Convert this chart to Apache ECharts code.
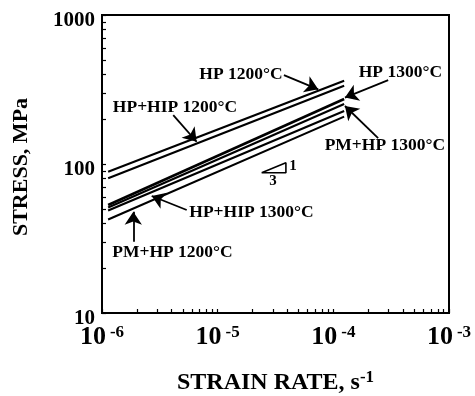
<!DOCTYPE html>
<html>
<head>
<meta charset="utf-8">
<script src="https://cdn.jsdelivr.net/npm/echarts@6/dist/echarts.min.js"></script>
<style>
  html, body { margin: 0; padding: 0; background: #fff; }
  #chart { width: 475px; height: 396px; }
</style>
</head>
<body>
<div id="chart"></div>
<script>
// Strain rates (s^-1) at the two ends of every fitted creep line
const strainRate = [1.13e-6, 1.24e-4];

// Flow stress (MPa) at those strain rates, one array per material / temperature
const stressHP1200    = [88.8, 362];
const stressHPHIP1200 = [80.2, 335];
const stressHP1300    = [53.1, 273];
const stressPMHP1300  = [51.1, 253];
const stressHPHIP1300 = [48.7, 227];
const stressPMHP1200  = [42.4, 208];

const seriesNames = ['HP 1200°C', 'HP+HIP 1200°C', 'HP 1300°C', 'PM+HP 1300°C', 'HP+HIP 1300°C', 'PM+HP 1200°C'];
const seriesStress = [stressHP1200, stressHPHIP1200, stressHP1300, stressPMHP1300, stressHPHIP1300, stressPMHP1200];

// Callout text anchors (strain rate, stress), same order as seriesNames
const calloutRate   = [1.59e-5, 4.28e-6, 3.80e-4, 2.79e-4, 1.96e-5, 4.07e-6];
const calloutStress = [398.8, 239, 411, 133, 47.3, 25.5];
// Leader arrows: tail near the text, head on the line
const arrowTailRate   = [3.74e-5, 4.13e-6, 2.98e-4, 2.44e-4, 5.40e-6, 1.865e-6];
const arrowTailStress = [395, 213, 366, 149, 49.1, 30.1];
const arrowHeadRate   = [7.40e-5, 6.58e-6, 1.26e-4, 1.26e-4, 2.69e-6, 1.865e-6];
const arrowHeadStress = [317, 141, 279, 245, 61.0, 47.9];

// Slope triangle (rise 1 over run 3 in log-log) and its two numbers
const slopeRate   = [2.40e-5, 3.89e-5, 3.89e-5, 2.40e-5];
const slopeStress = [87.4, 87.4, 102, 87.4];
const slopeText       = ['1', '3'];
const slopeTextRate   = [4.48e-5, 3.01e-5];
const slopeTextStress = [97.4, 76.9];

// Axis decades
const rateDecades   = [1e-6, 1e-5, 1e-4, 1e-3];
const stressDecades = [10, 100, 1000];

const lg = Math.log10;
const FONT = '"Liberation Serif", "Times New Roman", serif';

// Tick positions: each decade plus 2..9 times it
function withMinor(decades) {
  const out = [];
  decades.forEach((d, i) => {
    out.push(lg(d));
    if (i < decades.length - 1) {
      for (let m = 2; m <= 9; m++) out.push(lg(m * d));
    }
  });
  return out;
}

const lineSeries = seriesNames.map((name, k) => ({
  name: name,
  type: 'line',
  symbol: 'none',
  silent: true,
  lineStyle: { color: '#000', width: k === 2 ? 2.6 : 2.1 },
  data: strainRate.map((r, i) => [lg(r), lg(seriesStress[k][i])]),
  z: 3
}));

const textLabel = (size) => ({
  show: true,
  position: 'inside',
  formatter: '{b}',
  color: '#000',
  opacity: 1,
  textBorderWidth: 0,
  fontFamily: FONT,
  fontWeight: 'bold',
  fontSize: size
});

const calloutSeries = {
  type: 'scatter',
  symbolSize: 0,
  silent: true,
  itemStyle: { color: '#000' },
  label: textLabel(17.5),
  data: seriesNames.map((t, i) => ({ name: t, value: [lg(calloutRate[i]), lg(calloutStress[i])] })),
  markLine: {
    silent: true,
    animation: false,
    symbol: ['none', 'arrow'],
    symbolSize: 13,
    label: { show: false },
    lineStyle: { color: '#000', width: 1.8, type: 'solid' },
    data: arrowTailRate.map((r, i) => [
      { coord: [lg(r), lg(arrowTailStress[i])] },
      { coord: [lg(arrowHeadRate[i]), lg(arrowHeadStress[i])] }
    ])
  },
  z: 4
};

const slopeSeries = {
  type: 'line',
  symbol: 'none',
  silent: true,
  lineStyle: { color: '#000', width: 1.6 },
  data: slopeRate.map((r, i) => [lg(r), lg(slopeStress[i])])
};

const slopeLabelSeries = {
  type: 'scatter',
  symbolSize: 0,
  silent: true,
  itemStyle: { color: '#000' },
  label: textLabel(15),
  data: slopeText.map((t, i) => ({ name: t, value: [lg(slopeTextRate[i]), lg(slopeTextStress[i])] }))
};

const chart = echarts.init(document.getElementById('chart'), null, { renderer: 'canvas' });
chart.setOption({
  animation: false,
  backgroundColor: '#fff',
  grid: {
    left: 102, right: 26, top: 15, bottom: 83,
    containLabel: false,
    outerBoundsMode: 'none',
    show: true, borderColor: '#000', borderWidth: 2, backgroundColor: 'transparent'
  },
  xAxis: {
    type: 'value',
    min: lg(rateDecades[0]),
    max: lg(rateDecades[rateDecades.length - 1]),
    interval: 1,
    name: '{t|STRAIN RATE, s}{s|-1}',
    nameLocation: 'middle',
    nameGap: 56,
    nameTextStyle: {
      rich: {
        t: { fontFamily: FONT, fontWeight: 'bold', fontSize: 24, color: '#000', lineHeight: 28 },
        s: { fontFamily: FONT, fontWeight: 'bold', fontSize: 17, color: '#000', verticalAlign: 'top', lineHeight: 18 }
      }
    },
    axisLine: { show: true, lineStyle: { color: '#000', width: 2 } },
    axisTick: { show: true, inside: true, length: 4, lineStyle: { color: '#000', width: 1.2 }, customValues: withMinor(rateDecades) },
    axisLabel: {
      customValues: rateDecades.map(lg),
      margin: 11,
      formatter: v => '{b|10}{s|' + Math.round(v) + '}',
      rich: {
        b: { fontFamily: FONT, fontWeight: 'bold', fontSize: 26, color: '#000', lineHeight: 26 },
        s: { fontFamily: FONT, fontWeight: 'bold', fontSize: 17, color: '#000', verticalAlign: 'top', lineHeight: 24, padding: [0, 0, 0, 4] }
      }
    },
    splitLine: { show: false }
  },
  yAxis: {
    type: 'value',
    min: lg(stressDecades[0]),
    max: lg(stressDecades[stressDecades.length - 1]),
    interval: 1,
    name: 'STRESS, MPa',
    nameLocation: 'middle',
    nameGap: 70,
    nameTextStyle: { fontFamily: FONT, fontWeight: 'bold', fontSize: 22, color: '#000', padding: [0, 6, 0, 0] },
    axisLine: { show: true, lineStyle: { color: '#000', width: 2 } },
    axisTick: { show: true, inside: true, length: 4, lineStyle: { color: '#000', width: 1.2 }, customValues: withMinor(stressDecades) },
    axisLabel: {
      customValues: stressDecades.map(lg),
      margin: 7,
      verticalAlign: 'top',
      lineHeight: 12,
      formatter: v => String(Math.round(Math.pow(10, v))),
      fontFamily: FONT, fontWeight: 'bold', fontSize: 21, color: '#000'
    },
    splitLine: { show: false }
  },
  series: lineSeries.concat([slopeSeries, calloutSeries, slopeLabelSeries])
});
</script>
</body>
</html>
